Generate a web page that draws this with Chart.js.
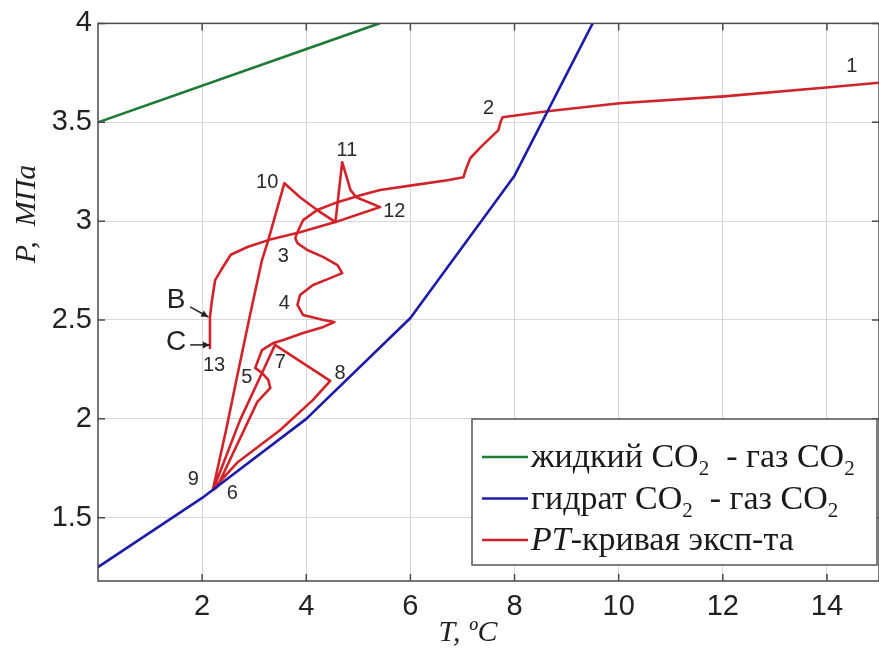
<!DOCTYPE html>
<html>
<head>
<meta charset="utf-8">
<script src="https://cdn.jsdelivr.net/npm/chart.js@4.4.1/dist/chart.umd.min.js"></script>
<style>
  html, body { margin: 0; padding: 0; background: #fff; }
  #wrap { width: 879px; height: 650px; }
</style>
</head>
<body>
<div id="wrap"><canvas id="pt" width="879" height="650"></canvas></div>
<script>
'use strict';

// ── Data ───────────────────────────────────────────────────────
const X_TICKS = [2, 4, 6, 8, 10, 12, 14];
const Y_TICKS = [1.5, 2, 2.5, 3, 3.5, 4];

// жидкий CO2 - газ CO2
const liqT = [0, 5.4];
const liqP = [3.5, 4.0];

// гидрат CO2 - газ CO2
const hydT = [0, 2, 4, 6, 8, 9.5];
const hydP = [1.25, 1.6, 2.0, 2.51, 3.23, 4.0];

// PT-кривая эксперимента (1 → 13)
const expT = [
  15.0, 14.04, 12.02, 10.02, 8.63, 7.77, 7.73, 7.69, 7.35, 7.15, 7.06, 7.02,
  6.71, 6.06, 5.42, 5.04, 4.60, 4.21, 3.94, 3.83, 3.79, 3.83, 4.02, 4.33,
  4.60, 4.69, 4.46, 4.13, 3.88, 3.83, 3.94, 4.33, 4.54, 4.33, 3.94, 3.56,
  3.37, 3.15, 3.02, 3.15, 3.27, 3.31, 3.06, 2.29,
  2.21, 2.73, 3.15, 3.40,
  4.46, 4.13, 3.50, 2.67, 2.29, 2.21,
  2.46, 2.67, 2.92, 3.15, 3.27, 3.58,
  3.88, 4.21, 4.56, 4.69, 4.85, 4.96, 5.42,
  4.56, 3.88, 3.27, 2.87, 2.55, 2.40, 2.25, 2.19, 2.15, 2.15, 2.15,
];
const expP = [
  3.70, 3.677, 3.631, 3.596, 3.556, 3.525, 3.50, 3.46, 3.374, 3.318, 3.258, 3.222,
  3.207, 3.182, 3.157, 3.131, 3.096, 3.056, 3.005, 2.944, 2.914, 2.889, 2.854, 2.818,
  2.778, 2.737, 2.712, 2.677, 2.626, 2.576, 2.525, 2.500, 2.490, 2.465, 2.434, 2.399,
  2.384, 2.348, 2.258, 2.232, 2.197, 2.157, 2.086, 1.657,
  1.640, 1.995, 2.232, 2.374,
  2.192, 2.096, 1.944, 1.778, 1.667, 1.646,
  1.944, 2.212, 2.525, 2.803, 2.904, 3.192,
  3.121, 3.056, 2.995, 3.298, 3.157, 3.121, 3.071,
  2.995, 2.944, 2.904, 2.869, 2.83, 2.768, 2.702, 2.601, 2.515, 2.449, 2.359,
];

// point numbers on the curve
const markText = ['1', '2', '3', '4', '5', '6', '7', '8', '9', '10', '11', '12', '13'];
const markT    = [14.48, 7.5, 3.56, 3.58, 2.86, 2.58, 3.5, 4.65, 1.83, 3.25, 4.78, 5.69, 2.23];
const markP    = [3.783, 3.571, 2.823, 2.586, 2.207, 1.621, 2.283, 2.232, 1.692, 3.197, 3.359, 3.05, 2.268];

// В / С arrows
const arrowText = ['В', 'С'];
const arrowT0   = [1.77, 1.77];
const arrowP0   = [2.566, 2.374];
const arrowT1   = [2.12, 2.15];
const arrowP1   = [2.515, 2.374];

const GREEN = '#1e7b34';
const BLUE  = '#1c1ca8';
const RED   = '#d0232a';

const zip = (xs, ys) => xs.map((x, i) => ({ x, y: ys[i] }));

// ── Plugins ────────────────────────────────────────────────────
const frame = {
  id: 'frame',
  afterDraw(chart) {
    const { ctx, chartArea: a, scales: { x, y } } = chart;
    ctx.save();
    ctx.strokeStyle = '#4a4a4a';
    ctx.lineWidth = 1.5;
    ctx.strokeRect(a.left, a.top, a.right - a.left, a.bottom - a.top);
    ctx.beginPath();
    X_TICKS.forEach(v => {
      const px = x.getPixelForValue(v);
      ctx.moveTo(px, a.bottom); ctx.lineTo(px, a.bottom - 7);
      ctx.moveTo(px, a.top);    ctx.lineTo(px, a.top + 7);
    });
    Y_TICKS.forEach(v => {
      const py = y.getPixelForValue(v);
      ctx.moveTo(a.left, py);  ctx.lineTo(a.left + 7, py);
      ctx.moveTo(a.right, py); ctx.lineTo(a.right - 7, py);
    });
    ctx.stroke();
    ctx.restore();
  },
};

const notes = {
  id: 'notes',
  afterDatasetsDraw(chart) {
    const { ctx, scales: { x, y } } = chart;
    ctx.save();
    ctx.fillStyle = '#2a2a2a';
    ctx.textAlign = 'center';
    ctx.textBaseline = 'middle';
    ctx.font = '20px "Liberation Sans", Arial, sans-serif';
    markText.forEach((s, i) => {
      ctx.fillText(s, x.getPixelForValue(markT[i]), y.getPixelForValue(markP[i]));
    });

    ctx.font = '28px "Liberation Sans", Arial, sans-serif';
    ctx.strokeStyle = '#222';
    ctx.lineWidth = 1.5;
    arrowText.forEach((s, i) => {
      const x0 = x.getPixelForValue(arrowT0[i]), y0 = y.getPixelForValue(arrowP0[i]);
      const x1 = x.getPixelForValue(arrowT1[i]), y1 = y.getPixelForValue(arrowP1[i]);
      ctx.fillStyle = '#222';
      ctx.fillText(s, x0 - 14, y0 - 7 + (i ? 4 : 0));
      ctx.beginPath(); ctx.moveTo(x0, y0); ctx.lineTo(x1, y1); ctx.stroke();
      const ang = Math.atan2(y1 - y0, x1 - x0);
      ctx.beginPath();
      ctx.moveTo(x1, y1);
      ctx.lineTo(x1 - 8 * Math.cos(ang - 0.45), y1 - 8 * Math.sin(ang - 0.45));
      ctx.lineTo(x1 - 8 * Math.cos(ang + 0.45), y1 - 8 * Math.sin(ang + 0.45));
      ctx.closePath();
      ctx.fill();
    });
    ctx.restore();
  },
  afterDraw(chart) {
    const { ctx } = chart;
    ctx.save();
    ctx.fillStyle = '#222';
    ctx.textAlign = 'center';
    ctx.textBaseline = 'middle';
    ctx.font = 'italic 30px "Liberation Serif", "Times New Roman", serif';
    ctx.fillText('T, ºC', 468, 633);
    ctx.translate(27, 214);
    ctx.rotate(-Math.PI / 2);
    ctx.fillText('P,  МПа', 0, 0);
    ctx.restore();
  },
};

// legend with subscripts
const legendBox = {
  id: 'legendBox',
  afterDraw(chart) {
    const { ctx, chartArea: a } = chart;
    const bx = 472, by = 419, bw = a.right - 2 - bx, bh = 146;
    ctx.save();
    ctx.fillStyle = '#fff';
    ctx.fillRect(bx, by, bw, bh);
    ctx.strokeStyle = '#555';
    ctx.lineWidth = 1.5;
    ctx.strokeRect(bx, by, bw, bh);

    const big = '34px "Liberation Serif", "Times New Roman", serif';
    const ital = 'italic 34px "Liberation Serif", "Times New Roman", serif';
    const sub = '21px "Liberation Serif", "Times New Roman", serif';
    const rows = [
      { color: GREEN, parts: [[big, 'жидкий CO'], [sub, '2'], [big, '  - газ CO'], [sub, '2']] },
      { color: BLUE,  parts: [[big, 'гидрат CO'], [sub, '2'], [big, '  - газ CO'], [sub, '2']] },
      { color: RED,   parts: [[ital, 'PT'], [big, '-кривая эксп-та']] },
    ];
    rows.forEach((r, i) => {
      const cy = by + 38 + i * 41.5;
      ctx.strokeStyle = r.color;
      ctx.lineWidth = 2.5;
      ctx.beginPath(); ctx.moveTo(482, cy); ctx.lineTo(528, cy); ctx.stroke();
      let tx = 531;
      ctx.fillStyle = '#1a1a1a';
      ctx.textBaseline = 'alphabetic';
      r.parts.forEach(([f, s]) => {
        ctx.font = f;
        ctx.fillText(s, tx, cy + 10 + (f === sub ? 8 : 0));
        tx += ctx.measureText(s).width;
      });
    });
    ctx.restore();
  },
};

// ── Chart ──────────────────────────────────────────────────────
const line = (data, color) => ({
  data, borderColor: color, backgroundColor: color,
  borderWidth: 2.6, showLine: true, pointRadius: 0, tension: 0,
  borderJoinStyle: 'round', borderCapStyle: 'round',
});

const tickFont = { family: '"Liberation Sans", Arial, sans-serif', size: 29 };

new Chart(document.getElementById('pt'), {
  type: 'scatter',
  data: {
    datasets: [
      line(zip(liqT, liqP), GREEN),
      line(zip(hydT, hydP), BLUE),
      line(zip(expT, expP), RED),
    ],
  },
  options: {
    responsive: false,
    animation: false,
    devicePixelRatio: 1,
    layout: { padding: { top: 23, right: 0, left: 0, bottom: 0 } },
    plugins: { legend: { display: false }, tooltip: { enabled: false } },
    scales: {
      x: {
        type: 'linear', min: 0, max: 15,
        afterBuildTicks: s => { s.ticks = X_TICKS.map(v => ({ value: v })); },
        afterFit: s => { s.height = 69; },
        grid: { color: '#d8d8d8', lineWidth: 1, drawTicks: false },
        border: { display: false },
        ticks: { padding: 9, color: '#222', font: tickFont, callback: v => String(v) },
      },
      y: {
        type: 'linear', min: 1.18, max: 4,
        afterBuildTicks: s => { s.ticks = Y_TICKS.map(v => ({ value: v })); },
        afterFit: s => { s.width = 98; },
        grid: { color: '#d8d8d8', lineWidth: 1, drawTicks: false },
        border: { display: false },
        ticks: { padding: 6, color: '#222', font: tickFont, callback: v => String(v) },
      },
    },
  },
  plugins: [frame, notes, legendBox],
});
</script>
</body>
</html>
